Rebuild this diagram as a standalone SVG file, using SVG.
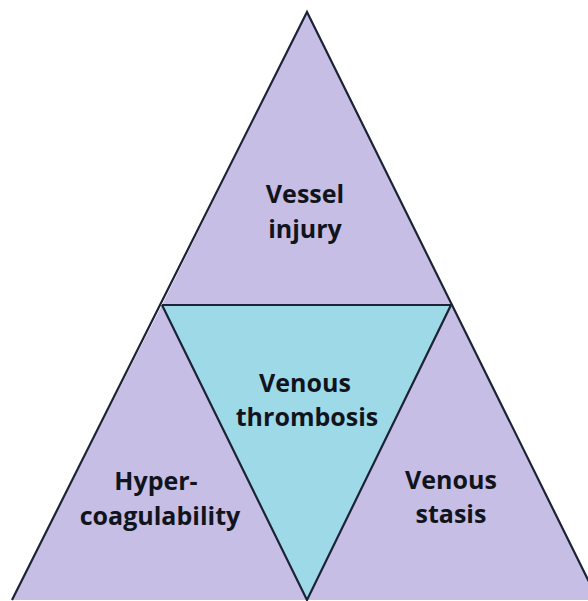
<svg xmlns="http://www.w3.org/2000/svg" width="588" height="601" viewBox="0 0 588 601">
<style>
.edge{stroke:#1c2336;stroke-width:2.2;stroke-linejoin:miter;fill:none}
.lav{fill:#c6bee4}
.cyan{fill:#9ed9e8}
.t{font-family:"Open Sans","Liberation Sans",sans-serif;font-weight:bold;font-size:25px;fill:#12141c;text-anchor:middle}
</style>
<rect width="588" height="601" fill="#ffffff"/>
<g id="vessel-injury">
<polygon class="lav" points="307,12 162,305 451,305"/>
<text class="t" x="305" y="203">Vessel</text>
<text class="t" x="305" y="238">injury</text>
</g>
<g id="hypercoagulability">
<polygon class="lav" points="162,305 307,600 12,600"/>
<text class="t" x="156" y="490">Hyper-</text>
<text class="t" x="160" y="525">coagulability</text>
</g>
<g id="venous-stasis">
<polygon class="lav" points="451,305 598,600 307,600"/>
<text class="t" x="451" y="489">Venous</text>
<text class="t" x="451" y="523">stasis</text>
</g>
<g id="venous-thrombosis">
<polygon class="cyan" points="162,305 451,305 307,600"/>
<text class="t" x="305" y="392">Venous</text>
<text class="t" x="307" y="426">thrombosis</text>
</g>
<g id="connectors">
<polyline class="edge" points="12,600 307,12 598,600"/>
<polyline class="edge" points="162,305 451,305 307,600 162,305"/>
</g>
</svg>
